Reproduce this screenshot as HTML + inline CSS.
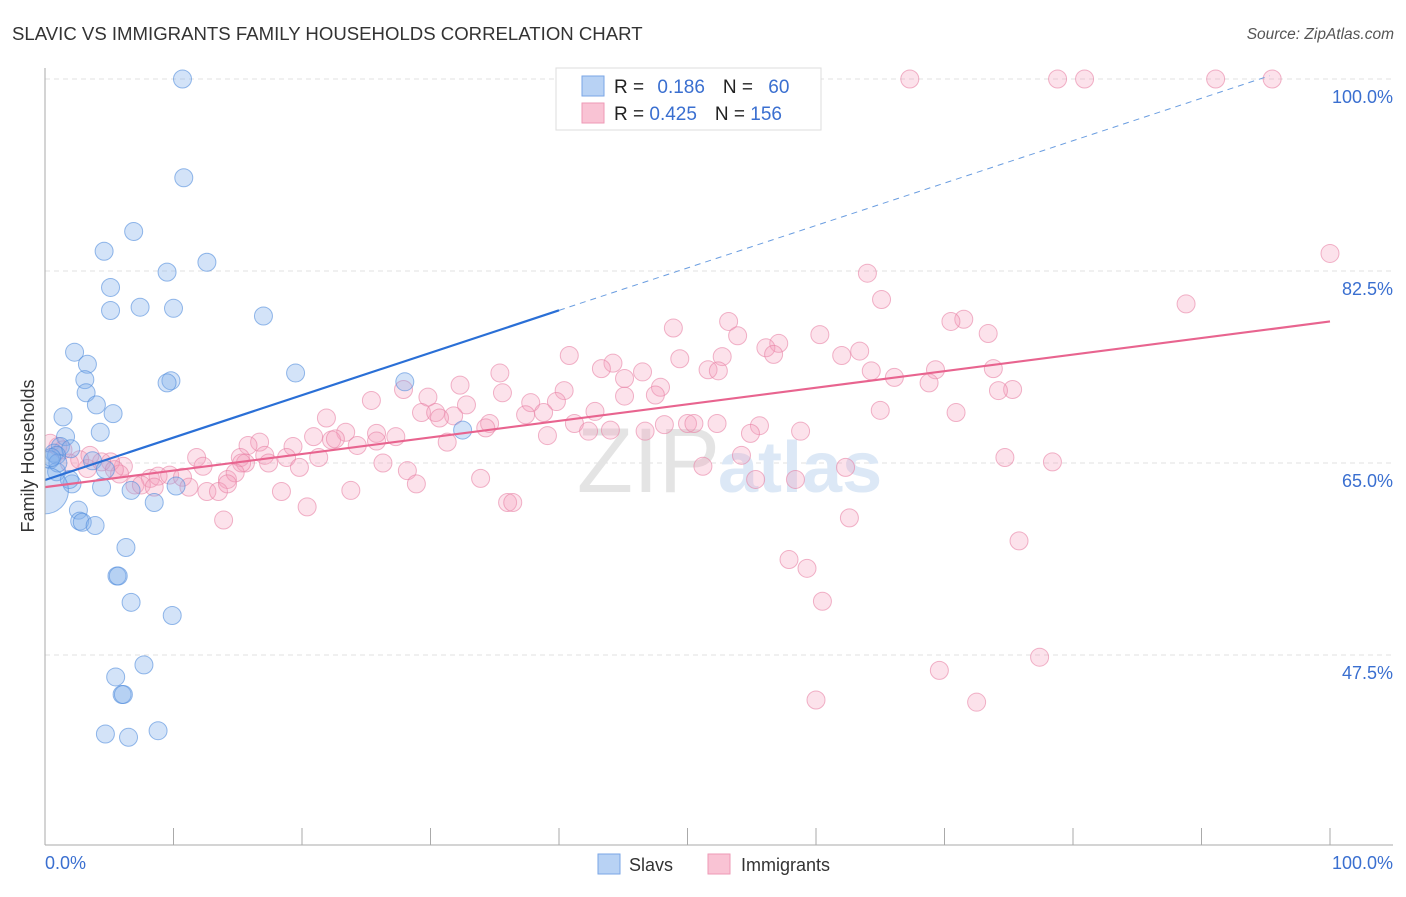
<!DOCTYPE html>
<html><head><meta charset="utf-8"><style>
body{margin:0;background:#fff;font-family:"Liberation Sans",sans-serif;}
svg text{font-family:"Liberation Sans",sans-serif;}
</style></head><body>
<svg id="chart" width="1406" height="892">
<defs><clipPath id="plotclip"><rect x="45" y="60" width="1360" height="785"/></clipPath></defs>
<text x="12" y="40" font-size="18.6" fill="#333">SLAVIC VS IMMIGRANTS FAMILY HOUSEHOLDS CORRELATION CHART</text>
<text x="1394" y="39" font-size="15.5" fill="#555" font-style="italic" text-anchor="end">Source: ZipAtlas.com</text>
<g id="grid"></g>
<text x="720" y="492" font-size="92" fill="#e4e4e4" text-anchor="end" font-family="Liberation Serif">ZIP</text>
<text x="718" y="492" font-size="72" fill="#dce8f6" font-weight="bold">atlas</text>
<g id="pts" clip-path="url(#plotclip)"></g>
<g id="lines"></g>
<line x1="45" y1="68" x2="45" y2="845" stroke="#aaa"/>
<line x1="45" y1="845" x2="1393" y2="845" stroke="#aaa"/>
<text x="34" y="456" font-size="18" fill="#333" transform="rotate(-90 34 456)" text-anchor="middle">Family Households</text>
<text x="45" y="869" font-size="18" fill="#3a6fd0">0.0%</text>
<text x="1393" y="869" font-size="18" fill="#3a6fd0" text-anchor="end">100.0%</text>
<g>
<rect x="556" y="68" width="265" height="62" fill="#fff" stroke="#ddd"/>
<rect x="582" y="76" width="22" height="20" fill="#b8d2f4" stroke="#7aa6e6"/>
<rect x="582" y="103" width="22" height="20" fill="#f9c3d4" stroke="#ee9ab6"/>
<text x="614" y="93" font-size="19" fill="#222">R = <tspan fill="#3a6fd0" dx="8">0.186</tspan><tspan dx="18" fill="#222">N = </tspan><tspan fill="#3a6fd0" dx="10">60</tspan></text>
<text x="614" y="120" font-size="19" fill="#222">R = <tspan fill="#3a6fd0">0.425</tspan><tspan dx="18" fill="#222">N = </tspan><tspan fill="#3a6fd0">156</tspan></text>
</g>
<g>
<rect x="598" y="854" width="22" height="20" fill="#b8d2f4" stroke="#7aa6e6"/>
<text x="629" y="871" font-size="18" fill="#333">Slavs</text>
<rect x="708" y="854" width="22" height="20" fill="#f9c3d4" stroke="#ee9ab6"/>
<text x="741" y="871" font-size="18" fill="#333">Immigrants</text>
</g>
</svg>
<script>
const yTicks=[47.5,65,82.5,100];
const yTickLabels=["47.5%","65.0%","82.5%","100.0%"];
const xTicks=[10,20,30,40,50,60,70,80,90,100];
const slavX=[10.7,10.8,6.9,4.6,12.6,9.5,5.1,7.4,10.0,5.1,17.0,2.3,3.3,19.5,3.1,9.8,9.5,28.0,3.2,4.0,5.3,1.4,1.6,4.3,1.2,2.0,0.7,0.9,3.7,0.4,4.7,0.9,2.1,4.4,6.7,10.2,8.5,2.6,2.7,2.9,3.9,6.3,5.6,5.7,6.7,9.9,7.7,5.5,6.0,6.1,4.7,6.5,8.8,32.5,1.9,1.0,0.5,0];
const slavY=[100.0,91.0,86.1,84.3,83.3,82.4,81.0,79.2,79.1,78.9,78.4,75.1,74.0,73.2,72.6,72.5,72.3,72.4,71.4,70.3,69.5,69.2,67.4,67.8,66.5,66.3,65.9,65.7,65.2,65.3,64.4,64.2,63.1,62.8,62.5,62.9,61.4,60.7,59.7,59.6,59.3,57.3,54.7,54.7,52.3,51.1,46.6,45.5,43.9,43.9,40.3,40.0,40.6,68.0,63.5,65.0,65.5,62.5];
const slavSize=[1,1,1,1,1,1,1,1,1,1,1,1,1,1,1,1,1,1,1,1,1,1,1,1,1,1,1,1,1,1,1,1,1,1,1,1,1,1,1,1,1,1,1,1,1,1,1,1,1,1,1,1,1,1,1,1,1,2.6];
const immX=[67.3,78.8,80.9,91.1,95.5,100.0,64.0,65.1,88.8,71.5,70.5,53.2,48.9,53.9,60.3,73.4,57.1,56.1,56.7,40.8,52.7,63.4,62.0,44.2,49.4,43.3,46.5,51.6,52.4,45.1,35.4,64.3,69.3,73.8,66.1,47.9,68.8,32.3,27.9,40.4,35.6,75.3,74.2,37.8,39.8,25.4,29.8,47.5,45.1,32.8,42.8,29.3,30.4,31.8,37.4,38.8,30.7,21.9,70.9,65.0,34.6,41.2,34.3,48.2,50.0,52.3,50.5,44.0,42.3,46.7,55.6,58.8,54.9,39.1,23.4,25.8,20.9,22.3,27.3,22.6,24.3,31.3,16.7,25.8,19.3,15.8,17.1,18.8,21.3,15.2,11.8,15.6,54.2,74.7,78.4,17.4,19.8,15.3,12.3,26.3,28.2,51.2,62.3,33.9,14.2,14.8,6.1,5.1,4.4,1.0,0.4,1.9,3.3,5.8,8.2,8.8,9.7,10.7,7.0,7.5,8.5,11.2,18.4,12.6,13.5,14.2,28.9,23.8,20.4,36.0,36.4,13.9,62.6,75.8,57.9,59.3,60.5,69.6,77.4,60.0,72.5,55.3,58.4,1.4,2.7,3.5,5.4];
const immY=[100.0,100.0,100.0,100.0,100.0,84.1,82.3,79.9,79.5,78.1,77.9,77.9,77.3,76.6,76.7,76.8,75.9,75.5,74.9,74.8,74.7,75.2,74.8,74.1,74.5,73.6,73.3,73.5,73.4,72.7,73.2,73.4,73.5,73.6,72.8,71.9,72.3,72.1,71.7,71.6,71.4,71.7,71.6,70.5,70.6,70.7,71.0,71.2,71.1,70.3,69.7,69.6,69.6,69.3,69.4,69.6,69.1,69.1,69.6,69.8,68.6,68.6,68.2,68.5,68.6,68.6,68.6,68.0,67.9,67.9,68.4,67.9,67.7,67.5,67.8,67.7,67.4,67.1,67.4,67.2,66.6,66.9,66.9,67.0,66.5,66.6,65.7,65.5,65.5,65.5,65.5,65.0,65.7,65.5,65.1,65.0,64.6,65.0,64.7,65.0,64.3,64.7,64.6,63.6,63.5,64.1,64.7,65.1,65.1,66.5,66.8,65.0,64.5,64.0,63.6,63.8,63.9,63.7,63.0,63.0,62.8,62.8,62.4,62.4,62.4,63.1,63.1,62.5,61.0,61.4,61.4,59.8,60.0,57.9,56.2,55.4,52.4,46.1,47.3,43.4,43.2,63.5,63.5,66.2,65.3,65.7,64.4];
const slavTrend=[63.45,0.3866];
const immTrend=[62.8,0.151];

const NS="http://www.w3.org/2000/svg";
const X0=45,X1=1330;
const xs=v=>X0+(X1-X0)*v/100;
const ys=v=>463-(v-65)*192/17.5;
function mk(tag,attrs,parent){const e=document.createElementNS(NS,tag);for(const k in attrs)e.setAttribute(k,attrs[k]);parent.appendChild(e);return e;}
const grid=document.getElementById('grid');
yTicks.forEach((t,i)=>{
  const l=mk('line',{x1:45,x2:1393,y1:ys(t),y2:ys(t),stroke:'#e0e0e0','stroke-dasharray':'5,4'},grid);
  
  
  const tx=mk('text',{x:1393,y:ys(t)+24,'font-size':18,fill:'#3a6fd0','text-anchor':'end'},grid);
  tx.textContent=yTickLabels[i];
  
  
});
xTicks.forEach(t=>{
  const l=mk('line',{x1:xs(t),x2:xs(t),y1:828,y2:845,stroke:'#aaa'},grid);
  
  
});
const pts=document.getElementById('pts');
immX.forEach((x,i)=>{
  const c=mk('circle',{cx:xs(x),cy:ys(immY[i]),r:9,fill:'rgba(245,160,190,0.3)',stroke:'rgba(232,130,165,0.6)','stroke-width':1},pts);
  
  
});
slavX.forEach((x,i)=>{
  const c=mk('circle',{cx:xs(x),cy:ys(slavY[i]),r:9*slavSize[i],fill:'rgba(130,175,235,0.35)',stroke:'rgba(80,140,220,0.6)','stroke-width':1},pts);
  
  
});
const lines=document.getElementById('lines');
const f=(tr,x)=>tr[0]+tr[1]*x;
let l1=mk('line',{x1:xs(0),y1:ys(f(slavTrend,0)),x2:xs(40),y2:ys(f(slavTrend,40)),stroke:'#2a6fd6','stroke-width':2.2},lines);


let l2=mk('line',{x1:xs(40),y1:ys(f(slavTrend,40)),x2:xs(95.3),y2:ys(f(slavTrend,95.3)),stroke:'#6a9de0','stroke-width':1,'stroke-dasharray':'6,5'},lines);


let l3=mk('line',{x1:xs(0),y1:ys(f(immTrend,0)),x2:xs(100),y2:ys(f(immTrend,100)),stroke:'#e8648f','stroke-width':2.2},lines);


</script>
</body></html>
